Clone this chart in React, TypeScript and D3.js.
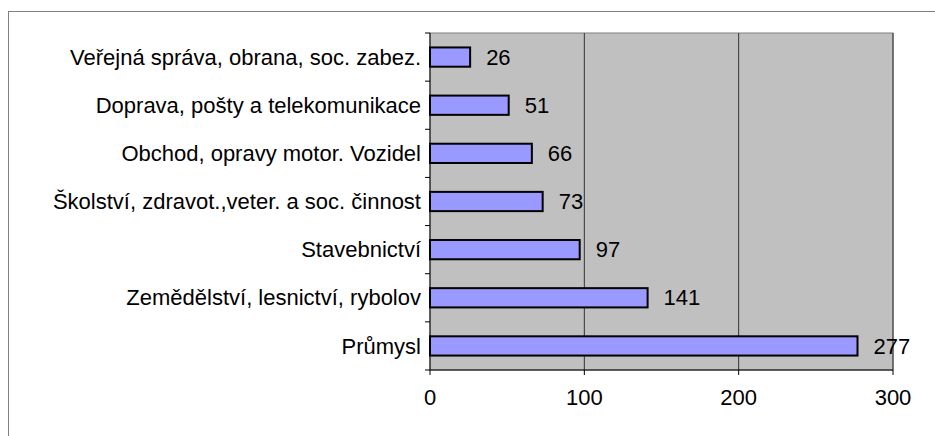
import React from "react";
import * as d3 from "d3";

const categories = [
	"Veřejná správa, obrana, soc. zabez.",
	"Doprava, pošty a telekomunikace",
	"Obchod, opravy motor. Vozidel",
	"Školství, zdravot.,veter. a soc. činnost",
	"Stavebnictví",
	"Zemědělství, lesnictví, rybolov",
	"Průmysl",
];
const values = [26, 51, 66, 73, 97, 141, 277];
const xTicks = [0, 100, 200, 300];

const W = 935;
const H = 436;
const margin = {top: 33, right: 42, bottom: 66, left: 430};

const App: React.FC = () => {
	const plotW = W - margin.left - margin.right;
	const plotH = H - margin.top - margin.bottom;

	const x = d3.scaleLinear().domain([0, 300]).range([0, plotW]);
	const y = d3.scaleBand().domain(categories).range([0, plotH]).paddingInner(0.6).paddingOuter(0.3);
	const yBand = plotH / categories.length;
	const font = "Liberation Sans, Arial, sans-serif";
	const fs = 22;

	return (
		<svg width={W} height={H} style={{position: "absolute", left: 0, top: 0}}>
			<rect x={0} y={0} width={W} height={H} fill="#fff" />
			{/* outer chart frame */}
			<rect x={8.5} y={11.5} width={W + 10} height={H + 10} fill="none" stroke="#808080" strokeWidth={1} />
			<g transform={`translate(${margin.left},${margin.top})`}>
				<rect x={0} y={0} width={plotW} height={plotH} fill="#c0c0c0" stroke="#808080" strokeWidth={1} />
				{xTicks.slice(1).map((t) => (
					<line key={t} x1={x(t)} x2={x(t)} y1={0} y2={plotH} stroke="#333" strokeWidth={1} />
				))}
				{categories.map((c, i) => (
					<g key={c}>
						<rect
							x={x(0)}
							y={y(c)}
							width={x(values[i])}
							height={y.bandwidth()}
							fill="#9999ff"
							stroke="#000"
							strokeWidth={2}
						/>
						<text
							x={x(values[i]) + 16}
							y={(y(c) || 0) + y.bandwidth() / 2}
							dy="0.35em"
							fontFamily={font}
							fontSize={fs}
							fill="#000"
						>
							{values[i]}
						</text>
						<text
							x={-9}
							y={(y(c) || 0) + y.bandwidth() / 2}
							dy="0.35em"
							textAnchor="end"
							fontFamily={font}
							fontSize={fs}
							fill="#000"
						>
							{c}
						</text>
					</g>
				))}
				{/* y axis */}
				<line x1={0} x2={0} y1={0} y2={plotH} stroke="#000" strokeWidth={1} />
				{d3.range(categories.length + 1).map((i) => (
					<line key={i} x1={-5} x2={0} y1={i * yBand} y2={i * yBand} stroke="#000" strokeWidth={1} />
				))}
				{/* x axis */}
				<line x1={0} x2={plotW} y1={plotH} y2={plotH} stroke="#000" strokeWidth={1} />
				{xTicks.map((t) => (
					<g key={t}>
						<line x1={x(t)} x2={x(t)} y1={plotH} y2={plotH + 5} stroke="#000" strokeWidth={1} />
						<text
							x={x(t)}
							y={plotH + 27}
							dy="0.35em"
							textAnchor="middle"
							fontFamily={font}
							fontSize={fs}
							fill="#000"
						>
							{t}
						</text>
					</g>
				))}
			</g>
		</svg>
	);
};

export default App;
